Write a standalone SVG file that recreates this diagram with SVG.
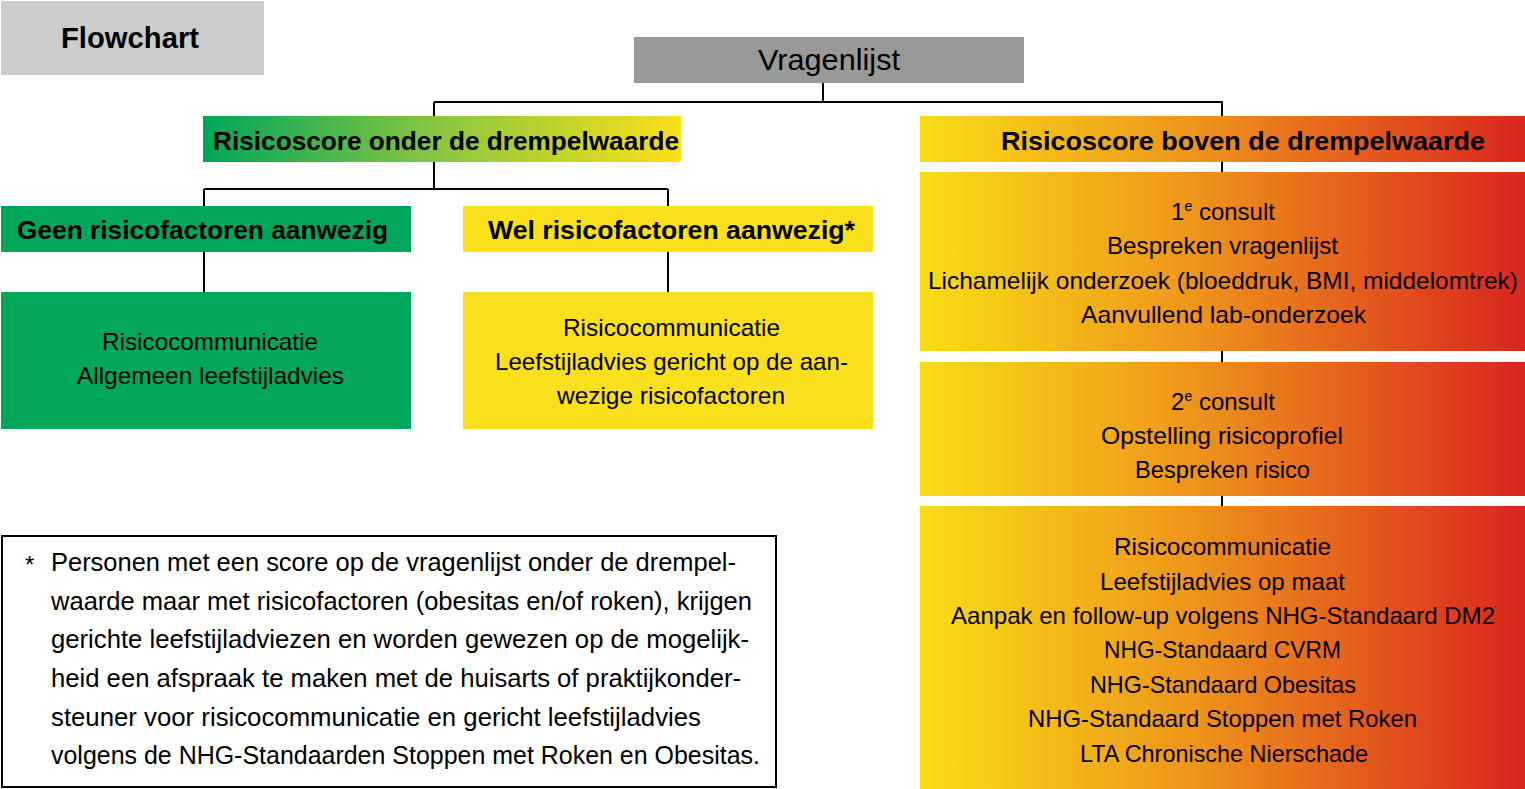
<svg xmlns="http://www.w3.org/2000/svg" width="1525" height="789" viewBox="0 0 1525 789">
<defs>
<linearGradient id="gGreen" x1="0" y1="0" x2="1" y2="0">
<stop offset="0" stop-color="#00a65a"/>
<stop offset="0.5" stop-color="#8cc63f"/>
<stop offset="1" stop-color="#fbe016"/>
</linearGradient>
<linearGradient id="gRed" x1="0" y1="0" x2="1" y2="0">
<stop offset="0" stop-color="#f9dd15"/>
<stop offset="0.45" stop-color="#ee951b"/>
<stop offset="1" stop-color="#da251d"/>
</linearGradient>
<style>
text{font-family:"Liberation Sans",Arial,sans-serif;fill:#000;}
.b{font-weight:bold;font-size:26px;text-anchor:middle;}
.t{font-size:24px;text-anchor:middle;}
.f{font-size:25px;}
.c{fill:none;stroke:#000;stroke-width:2;}
</style>
</defs>
<g id="connectors">
<path class="c" d="M823,83V102M434,102H1223M434,102V117M1222,102V172M434,162V189M204,189H668M204,189V207M668,189V207M204,252V292M668,252V292M1222,351V362M1222,496V506"/>
</g>
<g id="title">
<rect x="1" y="1" width="263" height="74" fill="#cccccc"/>
<text class="b" x="130" y="48" style="font-size:29px" textLength="138" lengthAdjust="spacingAndGlyphs">Flowchart</text>
</g>
<g id="vragenlijst">
<rect x="634" y="37" width="390" height="46" fill="#999999"/>
<text class="t" x="829" y="70" style="font-size:30px" textLength="142" lengthAdjust="spacingAndGlyphs">Vragenlijst</text>
</g>
<g id="onder">
<rect x="203" y="116" width="478" height="46" fill="url(#gGreen)"/>
<text class="b" x="446" y="150" textLength="466" lengthAdjust="spacingAndGlyphs">Risicoscore onder de drempelwaarde</text>
</g>
<g id="boven">
<rect x="920" y="116" width="605" height="46" fill="url(#gRed)"/>
<text class="b" x="1243" y="150" textLength="484" lengthAdjust="spacingAndGlyphs">Risicoscore boven de drempelwaarde</text>
</g>
<g id="geen">
<rect x="1" y="206" width="410" height="46" fill="#00a65a"/>
<text class="b" x="202.5" y="239" textLength="371" lengthAdjust="spacingAndGlyphs">Geen risicofactoren aanwezig</text>
</g>
<g id="wel">
<rect x="463" y="206" width="410" height="46" fill="#f9e01a"/>
<text class="b" x="671.5" y="239" textLength="367" lengthAdjust="spacingAndGlyphs">Wel risicofactoren aanwezig*</text>
</g>
<g id="geen-advies">
<rect x="1" y="292" width="410" height="137" fill="#00a65a"/>
<text class="t" x="210" y="350" textLength="216" lengthAdjust="spacingAndGlyphs">Risicocommunicatie</text>
<text class="t" x="210.5" y="384" textLength="267" lengthAdjust="spacingAndGlyphs">Allgemeen leefstijladvies</text>
</g>
<g id="wel-advies">
<rect x="463" y="292" width="410" height="137" fill="#f9e01a"/>
<text class="t" x="671.5" y="336" textLength="217" lengthAdjust="spacingAndGlyphs">Risicocommunicatie</text>
<text class="t" x="671.5" y="370" textLength="353" lengthAdjust="spacingAndGlyphs">Leefstijladvies gericht op de aan-</text>
<text class="t" x="671" y="404" textLength="228" lengthAdjust="spacingAndGlyphs">wezige risicofactoren</text>
</g>
<g id="consult1">
<rect x="920" y="172" width="605" height="179" fill="url(#gRed)"/>
<text class="t" x="1223" y="220">1<tspan font-size="14" dy="-9">e</tspan><tspan dy="9"> consult</tspan></text>
<text class="t" x="1222.5" y="254" textLength="231" lengthAdjust="spacingAndGlyphs">Bespreken vragenlijst</text>
<text class="t" x="1223" y="289" textLength="590" lengthAdjust="spacingAndGlyphs">Lichamelijk onderzoek (bloeddruk, BMI, middelomtrek)</text>
<text class="t" x="1223.5" y="323" textLength="285" lengthAdjust="spacingAndGlyphs">Aanvullend lab-onderzoek</text>
</g>
<g id="consult2">
<rect x="920" y="362" width="605" height="134" fill="url(#gRed)"/>
<text class="t" x="1223" y="410">2<tspan font-size="14" dy="-9">e</tspan><tspan dy="9"> consult</tspan></text>
<text class="t" x="1222" y="444" textLength="242" lengthAdjust="spacingAndGlyphs">Opstelling risicoprofiel</text>
<text class="t" x="1222.5" y="478" textLength="175" lengthAdjust="spacingAndGlyphs">Bespreken risico</text>
</g>
<g id="beleid">
<rect x="920" y="506" width="605" height="283" fill="url(#gRed)"/>
<text class="t" x="1222.5" y="555" textLength="217" lengthAdjust="spacingAndGlyphs">Risicocommunicatie</text>
<text class="t" x="1222.5" y="590" textLength="245" lengthAdjust="spacingAndGlyphs">Leefstijladvies op maat</text>
<text class="t" x="1223" y="624" textLength="544" lengthAdjust="spacingAndGlyphs">Aanpak en follow-up volgens NHG-Standaard DM2</text>
<text class="t" x="1222.5" y="658" textLength="237" lengthAdjust="spacingAndGlyphs">NHG-Standaard CVRM</text>
<text class="t" x="1223" y="693" textLength="266" lengthAdjust="spacingAndGlyphs">NHG-Standaard Obesitas</text>
<text class="t" x="1222.5" y="727" textLength="389" lengthAdjust="spacingAndGlyphs">NHG-Standaard Stoppen met Roken</text>
<text class="t" x="1224" y="762" textLength="288" lengthAdjust="spacingAndGlyphs">LTA Chronische Nierschade</text>
</g>
<g id="footnote">
<rect x="2" y="536" width="774" height="251" fill="#ffffff" stroke="#000" stroke-width="2"/>
<text x="25" y="573" style="font-size:24px">*</text>
<text class="f" x="51" y="571" textLength="685" lengthAdjust="spacingAndGlyphs">Personen met een score op de vragenlijst onder de drempel-</text>
<text class="f" x="51" y="610" textLength="701" lengthAdjust="spacingAndGlyphs">waarde maar met risicofactoren (obesitas en/of roken), krijgen</text>
<text class="f" x="51" y="648" textLength="698" lengthAdjust="spacingAndGlyphs">gerichte leefstijladviezen en worden gewezen op de mogelijk-</text>
<text class="f" x="51" y="687" textLength="690" lengthAdjust="spacingAndGlyphs">heid een afspraak te maken met de huisarts of praktijkonder-</text>
<text class="f" x="51" y="726" textLength="650" lengthAdjust="spacingAndGlyphs">steuner voor risicocommunicatie en gericht leefstijladvies</text>
<text class="f" x="51" y="764" textLength="709" lengthAdjust="spacingAndGlyphs">volgens de NHG-Standaarden Stoppen met Roken en Obesitas.</text>
</g>
</svg>
